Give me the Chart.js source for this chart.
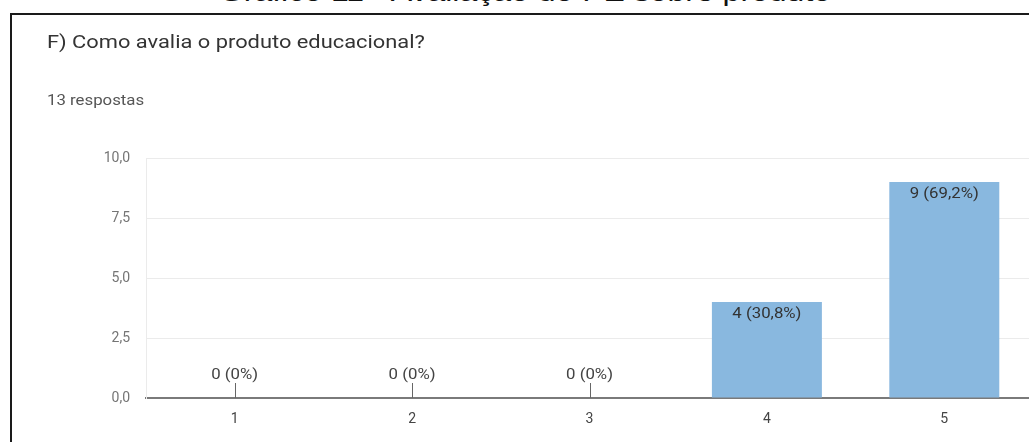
<!DOCTYPE html>
<html>
<head>
<meta charset="utf-8">
<script src="https://cdn.jsdelivr.net/npm/chart.js@4.4.1/dist/chart.umd.min.js"></script>
<style>
  html, body { margin: 0; padding: 0; background: #fff; overflow: hidden; width: 1029px; height: 442px; }
  #caption { position: absolute; left: 0; width: 1050px; top: -23px; text-align: center; font-family: "Liberation Sans", Arial, sans-serif; font-size: 26px; color: #111; white-space: nowrap; transform: scaleX(1.23); transform-origin: 525px 0; }
  #frame { position: absolute; left: 10px; top: 13px; width: 1040px; height: 460px; border-left: 2px solid #1a1a1a; border-top: 2px solid #1a1a1a; }
  #title { position: absolute; left: 47px; top: 30px; font-family: Roboto, sans-serif; font-size: 19px; color: #333; white-space: nowrap; transform: scaleX(1.15); transform-origin: 0 0; }
  #subtitle { position: absolute; left: 47px; top: 92px; font-family: Roboto, sans-serif; font-size: 14px; color: #555; white-space: nowrap; transform: scaleX(1.2); transform-origin: 0 0; }
  #wrap { position: absolute; left: 0; top: 0; width: 1040px; height: 442px; }
</style>
</head>
<body>
<div id="caption">Gráfico 11 - Avaliação do PE sobre produto</div>
<div id="frame"></div>
<div id="wrap"><canvas id="chart"></canvas></div>
<div id="title">F) Como avalia o produto educacional?</div>
<div id="subtitle">13 respostas</div>
<script>
// Data
const categories = ['1', '2', '3', '4', '5'];
const counts = [0, 0, 0, 4, 9];
const valueLabels = ['0 (0%)', '0 (0%)', '0 (0%)', '4 (30,8%)', '9 (69,2%)'];
const yTicks = [0, 2.5, 5, 7.5, 10];

// stretched text, the screenshot is a bit wider than tall
function wideText(ctx, text, x, y) {
    ctx.save();
    ctx.translate(x, y);
    ctx.scale(1.2, 1);
    ctx.fillText(text, 0, 0);
    ctx.restore();
}

// Draw the "n (x%)" labels: inside the bar top, or above a small stem when zero
const barLabels = {
    id: 'barLabels',
    afterDatasetsDraw(chart) {
        const ctx = chart.ctx;
        const meta = chart.getDatasetMeta(0);
        const base = chart.scales.y.getPixelForValue(0);
        ctx.save();
        ctx.font = '14px Roboto, sans-serif';
        ctx.textAlign = 'center';
        ctx.textBaseline = 'middle';
        meta.data.forEach((bar, i) => {
            if (counts[i] === 0) {
                ctx.strokeStyle = '#666';
                ctx.lineWidth = 1;
                ctx.beginPath();
                ctx.moveTo(Math.round(bar.x) + 0.5, base - 15);
                ctx.lineTo(Math.round(bar.x) + 0.5, base);
                ctx.stroke();
                ctx.fillStyle = '#444';
                wideText(ctx, valueLabels[i], bar.x, base - 23);
            } else {
                ctx.fillStyle = '#333';
                wideText(ctx, valueLabels[i], bar.x, bar.y + 12);
            }
        });
        ctx.restore();
    }
};

new Chart(document.getElementById('chart'), {
    type: 'bar',
    data: {
        labels: categories,
        datasets: [{
            data: counts,
            backgroundColor: '#89b8df',
            borderWidth: 0,
            barPercentage: 0.62,
            categoryPercentage: 1
        }]
    },
    options: {
        responsive: true,
        maintainAspectRatio: false,
        animation: false,
        layout: { padding: { top: 158, right: 7, bottom: 0, left: 0 } },
        plugins: {
            legend: { display: false },
            tooltip: { enabled: false }
        },
        scales: {
            x: {
                grid: { display: false, drawTicks: false },
                border: { color: '#7a7a7a', width: 2 },
                ticks: { color: '#444', font: { family: 'Roboto', size: 14 }, padding: 13 },
                afterFit: s => { s.height = 44; }
            },
            y: {
                min: 0,
                max: 10,
                afterBuildTicks: s => { s.ticks = yTicks.map(v => ({ value: v })); },
                grid: { color: '#ebebeb', drawTicks: false },
                border: { color: '#ebebeb', width: 1 },
                ticks: {
                    color: '#757575',
                    font: { family: 'Roboto', size: 14 },
                    padding: 16,
                    callback: v => v.toFixed(1).replace('.', ',')
                },
                afterFit: s => { s.width = 146; }
            }
        }
    },
    plugins: [barLabels]
});
</script>
</body>
</html>
